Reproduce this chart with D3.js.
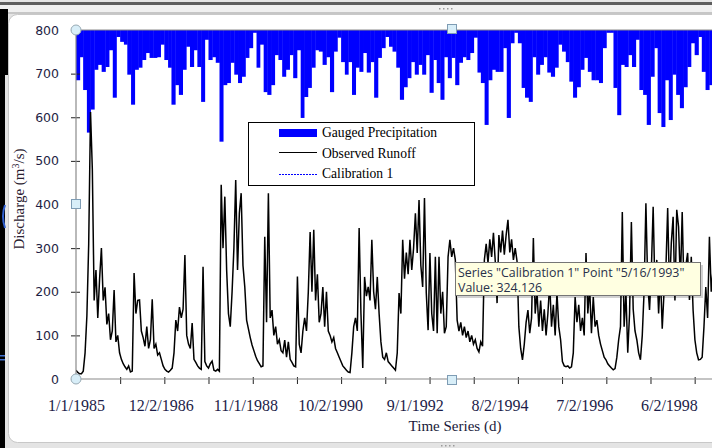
<!DOCTYPE html>
<html><head><meta charset="utf-8">
<script src="https://cdn.jsdelivr.net/npm/d3@7"></script>
<style>
html,body{margin:0;padding:0;background:#fff;overflow:hidden;}
svg{display:block;}
</style></head>
<body>
<svg id="c" width="712" height="448"></svg>
<script>
// ---------- DATA ----------
const seriesNames = ["Gauged Precipitation", "Observed Runoff", "Calibration 1"];
const startDate = "1/1/1985";
const runoffStepDays = 15;
// Observed runoff (m3/s), sampled every 15 days from 1/1/1985
const runoffValues = [
 20,15,12,12,18,60,145,310,612,480,
 180,250,140,230,300,180,210,125,150,90,
 110,204,85,100,60,45,35,28,22,30,
 16,18,243,150,180,181,110,95,75,120,
 70,90,183,70,80,55,60,45,30,22,
 18,16,20,25,60,135,110,165,140,160,
 284,100,80,70,128,45,38,30,25,22,
 257,40,30,25,35,41,20,18,22,18,
 445,300,418,250,150,120,200,300,456,250,
 380,426,260,211,135,115,95,78,65,52,
 42,35,28,30,326,130,426,140,158,100,
 120,80,90,65,60,89,50,85,45,38,
 30,28,235,80,60,110,140,110,200,337,
 200,342,180,240,130,150,211,120,200,110,
 100,85,95,70,60,50,40,30,25,20,
 16,15,60,120,140,110,346,150,25,234,
 190,211,180,319,200,160,234,150,85,50,
 45,60,40,35,30,25,20,60,197,150,
 319,230,290,240,319,250,300,380,289,410,
 260,211,415,197,112,289,150,110,280,105,
 280,150,200,105,120,280,319,280,300,273,
 135,110,130,100,120,95,110,85,100,80,
 90,70,62,85,75,273,310,266,320,280,
 335,270,174,330,290,340,285,330,365,290,
 320,273,300,270,120,70,44,80,130,158,
 105,140,323,150,200,120,180,110,160,100,
 150,220,120,170,100,197,120,90,40,30,
 28,30,25,28,60,188,130,170,110,140,
 100,289,150,211,105,188,120,135,100,80,
 65,50,44,35,30,25,21,24,50,90,
 120,383,120,197,60,150,360,160,110,90,
 60,44,100,200,403,220,158,250,395,200,
 273,150,240,115,200,250,392,200,312,372,
 180,388,349,220,383,200,260,289,181,280,
 158,90,60,44,45,50,120,211,140,326,
 200,250,180,300,150,120,100,90,80,70,
 60,55,50,48,45,42
];
// Gauged precipitation (mm / month), monthly from Jan 1985
const precipValues = [
 72,39,86,147,114,57,50,60,53,29,97,10,
 17,21,64,107,57,54,43,33,40,40,39,21,
 43,54,107,79,93,57,24,53,29,53,103,14,
 43,39,47,160,79,76,47,64,76,67,40,26,
 4,54,21,89,93,79,36,43,67,57,36,69,
 29,126,96,83,54,29,31,50,39,89,31,11,
 46,64,46,93,54,60,33,61,46,97,40,26,
 10,24,31,54,100,82,69,46,64,50,64,36,
 90,43,76,100,39,69,40,79,47,39,43,33,
 11,61,76,136,72,57,60,60,26,126,19,4,
 19,83,97,103,39,64,50,39,61,67,54,21,
 31,46,74,97,82,57,40,60,72,72,76,26,
 4,4,83,122,50,53,36,53,14,86,93,136,
 67,26,119,139,72,129,64,93,112,82,53,19,
 36,10,60,86,79,57,43,64,86,50,72,57
];
const calibrationValues = []; // hidden behind observed runoff in the view
const yTicks = [0,100,200,300,400,500,600,700,800];
const xTickLabels = ["1/1/1985","12/2/1986","11/1/1988","10/2/1990","9/1/1992","8/2/1994","7/2/1996","6/2/1998"];
const xDomain = ["1/1/1985","1/7/2002"];
const tooltipLines = ['Series "Calibration 1" Point "5/16/1993"', 'Value: 324.126'];
const yTitle = ["Discharge (m", "3", "/s)"];
const xTitle = "Time Series (d)";

// ---------- CHART ----------
const parse = d3.timeParse("%m/%d/%Y");
const t0 = parse(startDate);
const svg = d3.select("#c");

// window chrome
svg.append("rect").attr("x",0).attr("y",0).attr("width",712).attr("height",448).attr("fill","#e4e4e4");
svg.append("rect").attr("x",0).attr("y",2).attr("width",712).attr("height",3).attr("fill","#5e5e5e");
svg.append("rect").attr("x",0).attr("y",5).attr("width",712).attr("height",7).attr("fill","#f0f0f0");
svg.append("rect").attr("x",0).attr("y",12).attr("width",712).attr("height",2).attr("fill","#c6c6c6");
svg.append("rect").attr("x",8.5).attr("y",14.5).attr("width",740).attr("height",428).attr("rx",9)
  .attr("fill","#fff").attr("stroke","#c8c8c8");
svg.append("rect").attr("x",0).attr("y",9).attr("width",8).attr("height",66).attr("fill","#000");
svg.append("rect").attr("x",0).attr("y",75).attr("width",5).attr("height",373).attr("fill","#000");
svg.append("path").attr("d","M5,205 Q1,216 5,228").attr("fill","none").attr("stroke","#3060d0").attr("stroke-width",2);
svg.append("rect").attr("x",0).attr("y",355).attr("width",5).attr("height",1.5).attr("fill","#4070d0");
svg.append("rect").attr("x",0).attr("y",359).attr("width",5).attr("height",1.5).attr("fill","#4070d0");
[[448,9],[452,9],[456,9],[460,9]].forEach(p=>svg.append("rect").attr("x",p[0]-9).attr("y",p[1]-1).attr("width",1.5).attr("height",1.5).attr("fill","#9a9a9a"));
[[441,445],[445,445],[449,445],[453,445]].forEach(p=>svg.append("rect").attr("x",p[0]).attr("y",p[1]).attr("width",1.5).attr("height",1.5).attr("fill","#9a9a9a"));

const L = 76, R = 828, T = 30, B = 379;
const x = d3.scaleTime().domain(xDomain.map(parse)).range([L, R]);
const y = d3.scaleLinear().domain([0, 800]).range([B, T]);
const yP = d3.scaleLinear().domain([0, 500]).range([T, B]);

svg.append("defs").append("clipPath").attr("id","pc")
  .append("rect").attr("x",L).attr("y",T).attr("width",R-L).attr("height",B-T);
const plot = svg.append("g").attr("clip-path","url(#pc)");

// precipitation bars (hanging from top)
const months = precipValues.map((v,i)=>({d0:d3.timeMonth.offset(t0,i), d1:d3.timeMonth.offset(t0,i+1), v}));
plot.selectAll("rect.p").data(months).join("rect").attr("class","p")
  .attr("x",d=>x(d.d0)).attr("y",T)
  .attr("width",d=>x(d.d1)-x(d.d0)+0.4)
  .attr("height",d=>yP(d.v)-T)
  .attr("fill","#0000ff");

// runoff
const runoff = runoffValues.map((v,i)=>({d:d3.timeDay.offset(t0,i*runoffStepDays), v}));
plot.append("path").datum(runoff)
  .attr("d", d3.line().x(d=>x(d.d)).y(d=>y(d.v)))
  .attr("fill","none").attr("stroke","#000").attr("stroke-width",1.5).attr("stroke-linejoin","miter");
// calibration (not visible)
plot.append("path").datum(calibrationValues)
  .attr("d", d3.line().x(d=>x(d.d)).y(d=>y(d.v)))
  .attr("fill","none").attr("stroke","#0000ff").attr("stroke-dasharray","2,1");

// plot border top
svg.append("line").attr("x1",L).attr("x2",712).attr("y1",T).attr("y2",T).attr("stroke","#8a8a8a");

// Y axis
const yAx = svg.append("g").attr("transform",`translate(${L},0)`)
  .call(d3.axisLeft(y).tickValues(yTicks).tickSize(5).tickPadding(12));
yAx.select(".domain").remove();
yAx.selectAll(".tick line").attr("x1",4).attr("x2",-5).attr("stroke","#222");
yAx.selectAll(".tick text").attr("font-family","DejaVu Sans").attr("font-size",12.5).attr("fill","#1e1e44");
svg.append("line").attr("x1",L).attr("x2",L).attr("y1",T).attr("y2",B).attr("stroke","#8a8a8a").attr("stroke-width",1.2);

// X axis ticks (yearly)
const yearTicks = d3.timeYear.range(d3.timeYear.offset(t0,1), x.domain()[1]);
const xAxT = svg.append("g").attr("transform",`translate(0,${B})`)
  .call(d3.axisBottom(x).tickValues(yearTicks).tickSize(5).tickFormat(""));
xAxT.select(".domain").remove();
xAxT.selectAll(".tick line").attr("y1",-2).attr("y2",5).attr("stroke","#222");
const xAxL = svg.append("g").attr("transform",`translate(0,${B})`)
  .call(d3.axisBottom(x).tickValues(xTickLabels.map(parse)).tickSize(0).tickPadding(21)
    .tickFormat(d=>xTickLabels[xTickLabels.map(s=>+parse(s)).indexOf(+d)]));
xAxL.select(".domain").remove();
xAxL.selectAll(".tick text").attr("font-family","Liberation Serif").attr("font-size",16).attr("fill","#1c1c48");
svg.append("line").attr("x1",L).attr("x2",712).attr("y1",B).attr("y2",B).attr("stroke","#8a8a8a").attr("stroke-width",1.2);

// titles
svg.append("text").attr("x",455).attr("y",431).attr("text-anchor","middle")
  .attr("font-family","Liberation Serif").attr("font-size",15).attr("fill","#1a1a3a").text(xTitle);
const yt = svg.append("text").attr("transform","translate(24,199) rotate(-90)").attr("text-anchor","middle")
  .attr("font-family","Liberation Serif").attr("font-size",15).attr("fill","#2a2030");
yt.append("tspan").text(yTitle[0]);
yt.append("tspan").attr("dy",-5).attr("font-size",10).text(yTitle[1]);
yt.append("tspan").attr("dy",5).text(yTitle[2]);

// legend
const lg = svg.append("g");
lg.append("rect").attr("x",248.5).attr("y",122.5).attr("width",226).attr("height",63).attr("fill","#fff").attr("stroke","#000");
const rows = [137, 157.5, 178];
lg.append("rect").attr("x",279).attr("y",129).attr("width",38).attr("height",8).attr("fill","#0000ff");
lg.append("line").attr("x1",279).attr("x2",317).attr("y1",152.5).attr("y2",152.5).attr("stroke","#000");
lg.append("line").attr("x1",279).attr("x2",317).attr("y1",174.5).attr("y2",174.5).attr("stroke","#0000ff").attr("stroke-dasharray","2,1");
seriesNames.forEach((s,i)=>lg.append("text").attr("x",322).attr("y",rows[i])
  .attr("font-family","Liberation Serif").attr("font-size",13.6).attr("fill","#000").text(s));

// tooltip
const tt = svg.append("g");
tt.append("rect").attr("x",458).attr("y",265).attr("width",245).attr("height",33).attr("fill","#000").attr("opacity",0.18);
tt.append("rect").attr("x",455.5).attr("y",262.5).attr("width",245).attr("height",33).attr("fill","#ffffe1").attr("stroke","#767676");
tooltipLines.forEach((s,i)=>tt.append("text").attr("x",458).attr("y",276.5+i*15.5)
  .attr("font-family","Open Sans").attr("font-size",12.4).attr("fill","#28304a").text(s));

// selection handles
[[L,T],[L,B]].forEach(p=>svg.append("circle").attr("cx",p[0]).attr("cy",p[1]).attr("r",5)
  .attr("fill","#d8eef8").attr("stroke","#98aab4"));
[[452,29],[452,380],[76,204]].forEach(p=>svg.append("rect").attr("x",p[0]-4.5).attr("y",p[1]-4.5)
  .attr("width",9).attr("height",9).attr("fill","#d8eef8").attr("stroke","#7e9cb4"));
</script>
</body></html>
